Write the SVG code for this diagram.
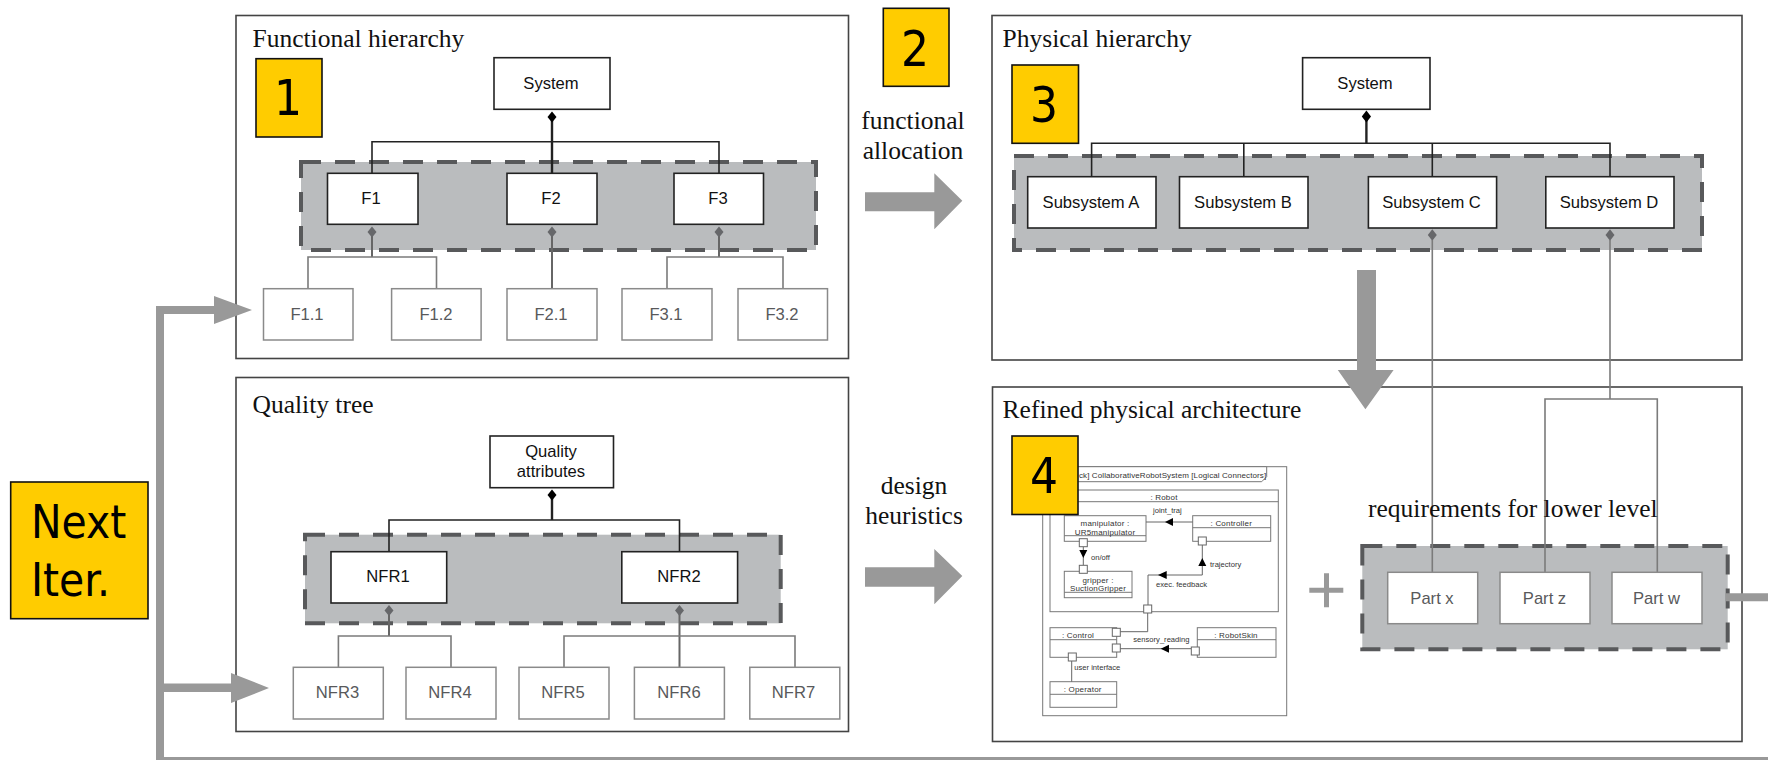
<svg xmlns="http://www.w3.org/2000/svg" width="1768" height="760" viewBox="0 0 1768 760">
<style>
text{font-family:"Liberation Sans",Arial,sans-serif;text-anchor:middle}
.panel{fill:#fff;stroke:#444;stroke-width:1.6}
.title{font-family:"Liberation Serif","Times New Roman",serif;font-size:25.5px;fill:#111;text-anchor:start}
.serif{font-family:"Liberation Serif","Times New Roman",serif;font-size:25.5px;fill:#111}
.group{fill:#babcbe;stroke:#58595b;stroke-width:4;stroke-dasharray:20 14}
.main rect{fill:#fff;stroke:#222;stroke-width:1.6}
.main text{font-size:16.6px;fill:#111}
.leaf rect{fill:#fff;stroke:#8a8a8a;stroke-width:1.5}
.leaf text{font-size:16.6px;fill:#58595b}
.badge rect{fill:#ffcc00;stroke:#111;stroke-width:1.6}
.badge text{font-family:"DejaVu Sans Condensed","DejaVu Sans",sans-serif;font-stretch:condensed;font-size:49px;fill:#000}
#next-iter text{font-size:45.500px;text-anchor:start}
.dk{fill:none;stroke:#222;stroke-width:1.6}
.dk2{fill:none;stroke:#222;stroke-width:2.4}
.gr{fill:none;stroke:#7b7b7b;stroke-width:1.6}
.gr2{fill:none;stroke:#666;stroke-width:2}
.dd{fill:#000}
.gd{fill:#66676a}
.big{fill:#999}
.u rect{fill:#fff;stroke:#777;stroke-width:1}
.u text{font-size:8px;fill:#333;letter-spacing:.2px}
.u line{stroke:#777;stroke-width:1}
.c{fill:none;stroke:#666;stroke-width:1}
.p{fill:#fff;stroke:#666;stroke-width:1}
.h{fill:#000}
.l{font-size:7.600px;fill:#333;text-anchor:start}
</style>

<g id="panels">
<rect class="panel" x="236" y="15.500" width="612.500" height="343"/>
<rect class="panel" x="236" y="377.500" width="612.500" height="354"/>
<rect class="panel" x="992" y="15.500" width="750" height="344.500"/>
<rect class="panel" x="992.500" y="387" width="749.500" height="354.500"/>
<rect class="group" x="301" y="162" width="515" height="88"/>
<rect class="group" x="305" y="534.700" width="475.700" height="88.600"/>
<rect class="group" x="1014" y="156" width="688" height="94"/>
<rect class="group" x="1362.300" y="546" width="365.400" height="103.300"/>
</g>

<g id="connectors">
<path class="dk2" d="M552 118V173"/>
<path class="dk" d="M372 173V141.700H719V173"/>
<path class="gr2" d="M372 230V257M552 230V289M719 230V257"/>
<path class="gr" d="M308 289V257H436.500V289M667 289V257H783V289"/>
<polygon class="dd" points="552,111.500 556.500,117 552,122.500 547.500,117"/>
<polygon class="gd" points="372,226.500 376.500,232 372,237.500 367.500,232"/>
<polygon class="gd" points="552,226.500 556.500,232 552,237.500 547.500,232"/>
<polygon class="gd" points="719,226.500 723.500,232 719,237.500 714.500,232"/>

<path class="dk2" d="M552 495V520"/>
<path class="dk" d="M389 551.700V520H679.500V551.700"/>
<path class="gr2" d="M389 610V636M679.500 610V667"/>
<path class="gr" d="M338.400 667V636H451V667M564 667V636H795V667"/>
<polygon class="dd" points="552,489.500 556.500,495 552,500.500 547.500,495"/>
<polygon class="gd" points="389,605 393.500,610.500 389,616 384.500,610.500"/>
<polygon class="gd" points="679.500,605 684,610.500 679.500,616 675,610.500"/>

<path class="dk2" d="M1366.400 116V143.300"/>
<path class="dk" d="M1091.600 176.700V143.300H1610V176.700M1243.800 143.300V176.700M1432.300 143.300V176.700"/>
<polygon class="dd" points="1366.400,110.500 1371,116.500 1366.400,122.500 1361.800,116.500"/>
<polygon class="gd" points="1432.300,229.300 1436.800,235 1432.300,240.700 1427.800,235"/>
<polygon class="gd" points="1610,229.300 1614.500,235 1610,240.700 1605.500,235"/>
<path class="gr" d="M1432.300 240V572.300M1610 240V399M1545 572.300V399H1657.300V572.300"/>
</g>

<g id="f-system" class="main"><rect x="494" y="57.700" width="116" height="51.600"/><text x="551" y="89.300">System</text></g>
<g id="f1" class="main"><rect x="327.500" y="173.300" width="90.500" height="51"/><text x="371" y="204">F1</text></g>
<g id="f2" class="main"><rect x="507" y="173.300" width="90" height="51"/><text x="551" y="204">F2</text></g>
<g id="f3" class="main"><rect x="674" y="173.300" width="89.500" height="51"/><text x="718" y="204">F3</text></g>
<g id="f11" class="leaf"><rect x="263.500" y="288.700" width="89.500" height="51.300"/><text x="307" y="320">F1.1</text></g>
<g id="f12" class="leaf"><rect x="391.600" y="288.700" width="89.500" height="51.300"/><text x="436" y="320">F1.2</text></g>
<g id="f21" class="leaf"><rect x="507" y="288.700" width="90" height="51.300"/><text x="551" y="320">F2.1</text></g>
<g id="f31" class="leaf"><rect x="622" y="288.700" width="90" height="51.300"/><text x="666" y="320">F3.1</text></g>
<g id="f32" class="leaf"><rect x="738" y="288.700" width="89.500" height="51.300"/><text x="782" y="320">F3.2</text></g>

<g id="q-root" class="main"><rect x="490" y="436" width="123.500" height="51.700"/><text x="551" y="457.300">Quality</text><text x="551" y="476.700">attributes</text></g>
<g id="nfr1" class="main"><rect x="331" y="551.700" width="115.700" height="51.300"/><text x="388" y="582">NFR1</text></g>
<g id="nfr2" class="main"><rect x="621.800" y="551.700" width="115.800" height="51.300"/><text x="679" y="582">NFR2</text></g>
<g id="nfr3" class="leaf"><rect x="293.300" y="667.300" width="90" height="51.700"/><text x="337.500" y="698.300">NFR3</text></g>
<g id="nfr4" class="leaf"><rect x="406" y="667.300" width="90" height="51.700"/><text x="450" y="698.300">NFR4</text></g>
<g id="nfr5" class="leaf"><rect x="519" y="667.300" width="90" height="51.700"/><text x="563" y="698.300">NFR5</text></g>
<g id="nfr6" class="leaf"><rect x="634.400" y="667.300" width="90" height="51.700"/><text x="679" y="698.300">NFR6</text></g>
<g id="nfr7" class="leaf"><rect x="749.800" y="667.300" width="90" height="51.700"/><text x="793.500" y="698.300">NFR7</text></g>

<g id="p-system" class="main"><rect x="1302.600" y="57.700" width="127.400" height="51.600"/><text x="1365" y="89.300">System</text></g>
<g id="sub-a" class="main"><rect x="1027.700" y="176.700" width="128.300" height="51.300"/><text x="1091" y="208">Subsystem A</text></g>
<g id="sub-b" class="main"><rect x="1179.500" y="176.700" width="128.500" height="51.300"/><text x="1243" y="208">Subsystem B</text></g>
<g id="sub-c" class="main"><rect x="1368.400" y="176.700" width="128.200" height="51.300"/><text x="1431.500" y="208">Subsystem C</text></g>
<g id="sub-d" class="main"><rect x="1545.800" y="176.700" width="128.200" height="51.300"/><text x="1609" y="208">Subsystem D</text></g>
<g id="part-x" class="leaf"><rect x="1387.700" y="572.300" width="90" height="51.400"/><text x="1432" y="604">Part x</text></g>
<g id="part-z" class="leaf"><rect x="1500" y="572.300" width="90" height="51.400"/><text x="1544.500" y="604">Part z</text></g>
<g id="part-w" class="leaf"><rect x="1612" y="572.300" width="90" height="51.400"/><text x="1656.500" y="604">Part w</text></g>

<g id="inset">
<g class="u">
<rect x="1042.700" y="466.700" width="244" height="249"/>
<path d="M1042.700 466.700H1266.700V476.700L1261.700 481.700H1042.700Z" fill="#fff" stroke="#777" stroke-width="1"/>
<text x="1079" y="478.300" style="text-anchor:start;letter-spacing:.1px">ck] CollaborativeRobotSystem [Logical Connectors]</text>
<rect x="1050" y="490" width="228.300" height="121.700"/><line x1="1050" y1="501.700" x2="1278.300" y2="501.700"/><text x="1164" y="499.700">: Robot</text>
<rect x="1064.300" y="515.700" width="81.700" height="25.600"/><line x1="1064.300" y1="535.700" x2="1146" y2="535.700"/><text x="1105" y="526">manipulator :</text><text x="1105" y="534.700">UR5manipulator</text>
<rect x="1192.700" y="515.700" width="78" height="25.600"/><line x1="1192.700" y1="527.700" x2="1270.700" y2="527.700"/><text x="1231.300" y="526">: Controller</text>
<rect x="1064.300" y="571.300" width="67.700" height="26.400"/><line x1="1064.300" y1="592.300" x2="1132" y2="592.300"/><text x="1098" y="582.700">gripper :</text><text x="1098" y="591.300">SuctionGripper</text>
<rect x="1050" y="627.700" width="66.700" height="29.600"/><line x1="1050" y1="639.700" x2="1116.700" y2="639.700"/><text x="1078" y="637.700">: Control</text>
<rect x="1197.300" y="627.700" width="78.700" height="29.600"/><line x1="1197.300" y1="639.700" x2="1276" y2="639.700"/><text x="1236" y="637.700">: RobotSkin</text>
<rect x="1050" y="681.700" width="66.700" height="25.600"/><line x1="1050" y1="694.300" x2="1116.700" y2="694.300"/><text x="1082.700" y="692.300">: Operator</text>
</g>
<path class="c" d="M1192.700 522H1146M1083.300 546.700V565.300M1202.300 545V575H1148V605M1147.700 613V631.700H1120M1120 648.700H1191M1071.700 661V681.700"/>
<path class="h" d="M1165 522L1173 518V526ZM1083.300 558L1079.300 550H1087.300ZM1202.300 558L1206.300 566H1198.300ZM1158 575L1166.700 571V579ZM1160.700 648.700L1169 644.700V652.700Z"/>
<g class="p">
<rect x="1079.300" y="538.700" width="8" height="8"/><rect x="1079.300" y="565.300" width="8" height="8"/><rect x="1198.300" y="537" width="8" height="8"/><rect x="1143.700" y="605" width="8" height="8"/><rect x="1112.300" y="628.300" width="8" height="8"/><rect x="1112.300" y="644" width="8" height="8"/><rect x="1191.300" y="647" width="8" height="8"/><rect x="1068.300" y="653" width="8" height="8"/>
</g>
<text class="l" x="1153" y="513.300">joint_traj</text>
<text class="l" x="1091" y="560">on/off</text>
<text class="l" x="1210" y="566.700">trajectory</text>
<text class="l" x="1156" y="586.700">exec. feedback</text>
<text class="l" x="1133.300" y="642.300">sensory_reading</text>
<text class="l" x="1074.300" y="670">user interface</text>
</g>

<g id="arrows">
<path class="big" d="M156 757V306H214V296L252 310L214 324V314H164V683.500H231V673L269 688L231 703V692H164V757H1768V760H156Z"/>
<path class="big" d="M1726 593.300H1768V601.300H1726Z"/>
<path class="big" d="M865 192.300H934.300V173.300L962.300 200.700L934.300 229.300V211.300H865Z"/>
<path class="big" d="M865 567.300H934.300V549L962.300 576L934.300 604.300V586.700H865Z"/>
<path class="big" d="M1357 270H1376V370H1393.600L1365.400 409.300L1337.800 370H1357Z"/>
<path class="big" d="M1309.300 587.800H1324V573.300H1329V587.800H1343.300V592.800H1329V607.300H1324V592.800H1309.300Z"/>
</g>

<g id="labels">
<text class="title" x="252.500" y="47.300">Functional hierarchy</text>
<text class="title" x="252.500" y="413">Quality tree</text>
<text class="title" x="1002.600" y="46.700">Physical hierarchy</text>
<text class="title" x="1002.600" y="418">Refined physical architecture</text>
<text class="title" x="1368" y="516.700">requirements for lower level</text>
<text class="serif" x="913" y="128.700">functional</text>
<text class="serif" x="913" y="159">allocation</text>
<text class="serif" x="914" y="494.300">design</text>
<text class="serif" x="914" y="524">heuristics</text>
</g>

<g id="badge-1" class="badge"><rect x="256" y="58.700" width="66" height="78.300"/><text x="288" y="115">1</text></g>
<g id="badge-2" class="badge"><rect x="883.300" y="8.300" width="65.700" height="78"/><text x="915" y="65.700">2</text></g>
<g id="badge-3" class="badge"><rect x="1012" y="65" width="66.500" height="78.300"/><text x="1044" y="121.700">3</text></g>
<g id="badge-4" class="badge"><rect x="1012" y="436" width="66" height="78.500"/><text x="1044" y="493">4</text></g>
<g id="next-iter" class="badge"><rect x="10.700" y="482" width="137.300" height="136.700"/><text x="31" y="538">Next</text><text x="31" y="596">Iter.</text></g>
</svg>
